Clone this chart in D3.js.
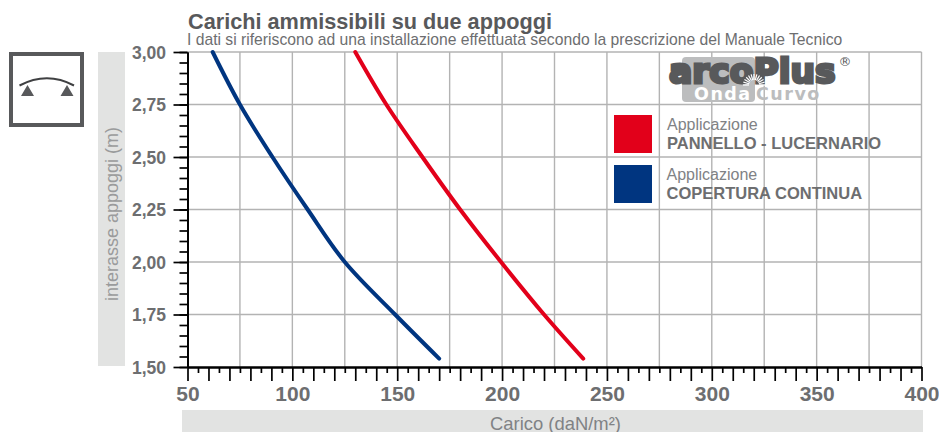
<!DOCTYPE html>
<html>
<head>
<meta charset="utf-8">
<script src="https://cdn.jsdelivr.net/npm/d3@7"></script>
<style>
  html, body { margin: 0; padding: 0; background: #fff; }
  svg { display: block; font-family: "Liberation Sans", Arial, sans-serif; }
</style>
</head>
<body>
<div id="chart"></div>
<script>
// values
const spans = [3.0, 2.75, 2.5, 2.25, 2.0, 1.75, 1.54];
const copertura = [62, 75, 90.5, 107.3, 125, 149, 170];
const pannello = [130, 144.8, 162, 180, 199.5, 220, 238.7];

const xMajorTicks = d3.range(50, 401, 50);
const xGridTicks = d3.range(50, 401, 25);
const yMajorTicks = [3.0, 2.75, 2.5, 2.25, 2.0, 1.75, 1.5];

const titleText = "Carichi ammissibili su due appoggi";
const subtitleText = "I dati si riferiscono ad una installazione effettuata secondo la prescrizione del Manuale Tecnico";
const legendLabels = ["PANNELLO - LUCERNARIO", "COPERTURA CONTINUA"];

const RED = "#e2001a", BLUE = "#003580";
const GREY_TEXT = "#6d6e70", BAND = "#e2e3e2", GRID = "#b3b3b3", DARK = "#58595b";
const LOGO_FONT = '"DejaVu Sans", sans-serif';

const svg = d3.select("#chart").append("svg")
    .attr("width", 939)
    .attr("height", 432);

const x = d3.scaleLinear().domain([50, 400]).range([187.5, 921.5]);
const y = d3.scaleLinear().domain([1.5, 3.0]).range([367, 52]);

// Grey bands behind the axis titles
svg.append("rect").attr("x", 98).attr("y", 52).attr("width", 27).attr("height", 314).attr("fill", BAND);
svg.append("rect").attr("x", 182).attr("y", 410).attr("width", 741).attr("height", 22).attr("fill", BAND);

// Grid
const grid = svg.append("g").attr("stroke", GRID).attr("stroke-width", 1.4);
grid.selectAll(".gx").data(xGridTicks.slice(1)).enter().append("line")
    .attr("x1", d => x(d)).attr("x2", d => x(d))
    .attr("y1", y(3)).attr("y2", y(1.5));
grid.selectAll(".gy").data(yMajorTicks.slice(0, -1)).enter().append("line")
    .attr("x1", x(50)).attr("x2", x(400))
    .attr("y1", d => y(d)).attr("y2", d => y(d));

// Axes: one axis per tick length
function styleAxis(g) {
    g.selectAll("line").attr("stroke", "#000").attr("stroke-width", 1.7);
    g.selectAll("path").attr("stroke", "#000").attr("stroke-width", 1.8);
}

svg.append("g")
    .attr("transform", `translate(0,${y(1.5)})`)
    .call(d3.axisBottom(x).tickValues(d3.range(50, 401, 5).filter(d => d % 10 !== 0)).tickSize(6).tickSizeOuter(0).tickFormat(""))
    .call(styleAxis);

const xAxis = svg.append("g")
    .attr("transform", `translate(0,${y(1.5)})`)
    .call(d3.axisBottom(x).tickValues(d3.range(50, 401, 10)).tickSize(14).tickSizeOuter(0)
        .tickFormat(d => xMajorTicks.includes(d) ? d : ""))
    .call(styleAxis);
xAxis.selectAll("text")
    .attr("y", 19).attr("dy", "0.71em")
    .attr("font-family", '"Liberation Sans", Arial, sans-serif')
    .attr("font-size", 21).attr("font-weight", "bold").attr("fill", GREY_TEXT);

svg.append("g")
    .attr("transform", `translate(${x(50)},0)`)
    .call(d3.axisLeft(y).tickValues(d3.range(30, 61).map(d => d / 20)).tickSize(8).tickSizeOuter(0).tickFormat(""))
    .call(styleAxis);

const yAxis = svg.append("g")
    .attr("transform", `translate(${x(50)},0)`)
    .call(d3.axisLeft(y).tickValues(yMajorTicks).tickSize(14).tickSizeOuter(0)
        .tickFormat(d => d.toFixed(2).replace(".", ",")))
    .call(styleAxis);
yAxis.selectAll("text")
    .attr("x", -21.5).attr("dy", "0.36em")
    .attr("font-family", '"Liberation Sans", Arial, sans-serif')
    .attr("font-size", 17.5).attr("font-weight", "bold").attr("fill", GREY_TEXT);

// Axis titles
svg.append("text")
    .attr("transform", "translate(118,214) rotate(-90)")
    .attr("text-anchor", "middle").attr("font-size", 18).attr("fill", "#9a9b9c")
    .text("interasse appoggi (m)");
svg.append("text")
    .attr("x", 555.5).attr("y", 429.5)
    .attr("text-anchor", "middle").attr("font-size", 18.4).attr("fill", "#808285")
    .text("Carico (daN/m²)");

// Title
svg.append("text").attr("x", 188).attr("y", 29)
    .attr("font-size", 21.7).attr("font-weight", "bold").attr("fill", DARK).text(titleText);
svg.append("text").attr("x", 187).attr("y", 45)
    .attr("font-size", 15.7).attr("fill", GREY_TEXT).text(subtitleText);

// Logo
const logo = svg.append("g").attr("font-family", LOGO_FONT).attr("font-weight", "bold");
logo.append("rect").attr("x", 682).attr("y", 57).attr("width", 73).attr("height", 45).attr("rx", 4).attr("fill", "#bcbdbe");
logo.append("text").attr("x", 669).attr("y", 83)
    .attr("font-size", 34.5)
    .attr("fill", DARK).attr("stroke", DARK).attr("stroke-width", 3)
    .text("arcoPlus");
logo.selectAll(".ray").data(d3.range(0, 181, 15)).enter().append("line")
    .attr("x1", d => 754 + 5 * Math.cos(d * Math.PI / 180))
    .attr("y1", d => 85 - 5 * Math.sin(d * Math.PI / 180))
    .attr("x2", d => 754 + 11 * Math.cos(d * Math.PI / 180))
    .attr("y2", d => 85 - 11 * Math.sin(d * Math.PI / 180))
    .attr("stroke", "#fff").attr("stroke-width", 1.2);
logo.append("text").attr("x", 694).attr("y", 100)
    .attr("font-size", 17.5).attr("letter-spacing", 1.5).attr("fill", "#fff").text("Onda");
logo.append("text").attr("x", 756).attr("y", 100)
    .attr("font-size", 17.5).attr("letter-spacing", 1.5).attr("fill", "#bcbdbe").text("Curvo");
logo.append("text").attr("x", 838.5).attr("y", 66)
    .attr("font-size", 13).attr("font-weight", "normal").attr("fill", DARK).text("®");

// Curves
const line = d3.line()
    .x(d => x(d[0]))
    .y(d => y(d[1]))
    .curve(d3.curveCatmullRom);

[[copertura, BLUE], [pannello, RED]].forEach(([values, color]) => {
    svg.append("path")
        .datum(values.map((v, i) => [v, spans[i]]))
        .attr("fill", "none")
        .attr("stroke", color)
        .attr("stroke-width", 4)
        .attr("stroke-linecap", "round")
        .attr("d", line);
});

// Legend
const legend = svg.append("g");
[RED, BLUE].forEach((color, i) => {
    const top = 115 + i * 50;
    const textX = i === 0 ? 667 : 666.5;
    legend.append("rect").attr("x", 614).attr("y", top).attr("width", 38).attr("height", 38).attr("fill", color);
    legend.append("text").attr("x", textX).attr("y", top + 15)
        .attr("font-size", 16).attr("fill", "#808285").text("Applicazione");
    legend.append("text").attr("x", textX).attr("y", top + 33.5)
        .attr("font-size", 16.5).attr("font-weight", "bold").attr("fill", GREY_TEXT).text(legendLabels[i]);
});

// Support icon
const icon = svg.append("g");
icon.append("rect").attr("x", 11).attr("y", 54).attr("width", 71).attr("height", 71)
    .attr("fill", "#fff").attr("stroke", DARK).attr("stroke-width", 4);
icon.append("path").attr("d", "M19.5,85.5 Q47,71 74,85.5")
    .attr("fill", "none").attr("stroke", "#3f4042").attr("stroke-width", 2);
icon.append("path").attr("d", "M27.5,85 L34,96 L21,96 Z M67,85 L73.5,96 L60.5,96 Z").attr("fill", DARK);
</script>
</body>
</html>
